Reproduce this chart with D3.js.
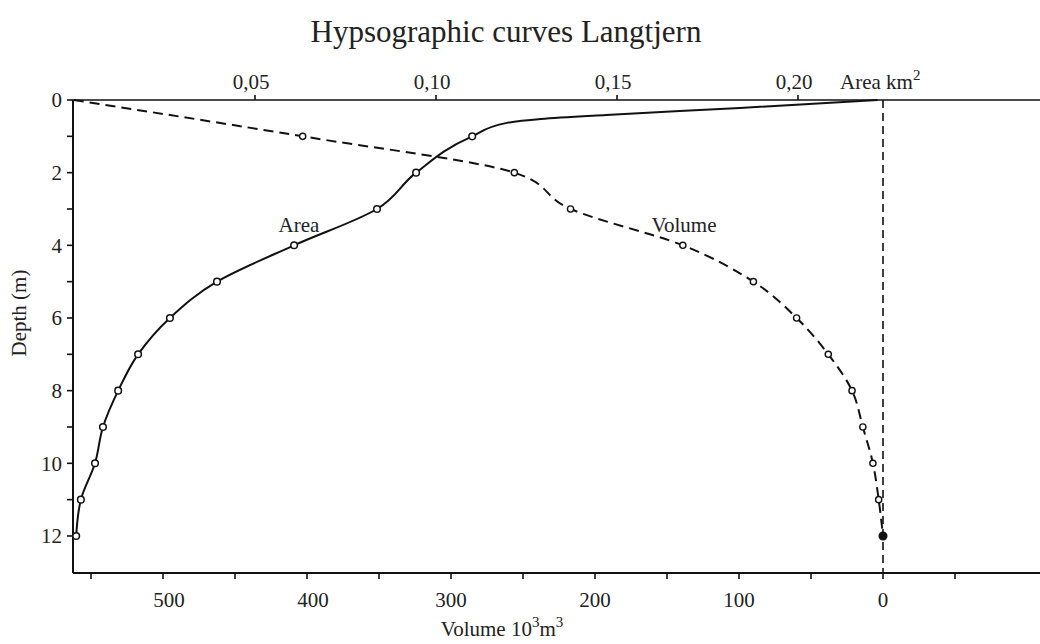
<!DOCTYPE html>
<html>
<head>
<meta charset="utf-8">
<script src="https://cdn.jsdelivr.net/npm/d3@7"></script>
<style>
  html, body { margin: 0; padding: 0; background: #fff; }
  svg { display: block; }
  text { font-family: "Liberation Serif", "Times New Roman", serif; fill: #222; }
</style>
</head>
<body>
<svg id="chart" width="1040" height="644"></svg>
<script>
// ---- data ----
const title = "Hypsographic curves Langtjern";
// Area curve (km²) vs depth (m); markers on whole-metre depths
const areaDepths = [0, 0.22, 0.41, 0.52, 0.63, 1, 2, 3, 4, 5, 6, 7, 8, 9, 10, 11, 12];
const areaValues = [0.222, 0.184, 0.147, 0.129, 0.1196, 0.110, 0.0945, 0.0837, 0.0608, 0.0395, 0.0265, 0.0177, 0.0122, 0.0080, 0.0058, 0.0019, 0.0006];
// Cumulative volume (10³ m³) below each depth
const volumeDepths = [0, 1, 2, 3, 4, 5, 6, 7, 8, 9, 10, 11, 12];
const volumeValues = [562, 403, 256, 217, 139, 90, 60, 38, 21.5, 14, 7, 3, 0];
// axis ticks
const depthMajorTicks = [0, 2, 4, 6, 8, 10, 12];
const depthAllTicks = [0, 1, 2, 3, 4, 5, 6, 7, 8, 9, 10, 11, 12];
const areaTicks = [0.05, 0.10, 0.15, 0.20];
const areaTickLabels = ["0,05", "0,10", "0,15", "0,20"];
const volumeTicks = [550, 500, 450, 400, 350, 300, 250, 200, 150, 100, 50, 0, -50];
const volumeLabelTicks = [500, 400, 300, 200, 100, 0];

(function () {
// ---- layout ----
const svg = d3.select("#chart");
const pL = 73, pT = 100, pB = 573, pR = 1040;

const y = d3.scaleLinear().domain([0, 13]).range([pT, pB - 0.7]);
const xArea = d3.scaleLinear().domain([0, 0.2]).range([74, 798]);
const xVol = d3.scaleLinear().domain([0, 500]).range([883, 163]);

// title
svg.append("text").attr("x", 506).attr("y", 42).attr("text-anchor", "middle")
  .style("font-size", "31px").text(title);

// frame lines
svg.append("line").attr("x1", pL).attr("x2", pR).attr("y1", pT).attr("y2", pT)
  .attr("stroke", "#111").attr("stroke-width", 1.6);
svg.append("line").attr("x1", pL).attr("x2", pR).attr("y1", pB).attr("y2", pB)
  .attr("stroke", "#111").attr("stroke-width", 2);
svg.append("line").attr("x1", pL).attr("x2", pL).attr("y1", pT).attr("y2", pB)
  .attr("stroke", "#111").attr("stroke-width", 2);

// left depth axis
const gL = svg.append("g");
gL.selectAll("line.tk").data(depthAllTicks).join("line")
  .attr("x1", pL - 6).attr("x2", pL).attr("y1", d => y(d)).attr("y2", d => y(d))
  .attr("stroke", "#111").attr("stroke-width", 1.6);
gL.selectAll("text").data(depthMajorTicks).join("text")
  .attr("x", 62).attr("y", d => y(d)).attr("dy", "0.35em").attr("text-anchor", "end")
  .style("font-size", "21px").text(d => d);
svg.append("text").attr("transform", "translate(26,313) rotate(-90)")
  .attr("text-anchor", "middle").style("font-size", "21px").text("Depth (m)");

// top area axis
const gT = svg.append("g");
gT.selectAll("line").data(areaTicks).join("line")
  .attr("x1", d => xArea(d)).attr("x2", d => xArea(d)).attr("y1", pT - 5).attr("y2", pT)
  .attr("stroke", "#111").attr("stroke-width", 1.6);
gT.selectAll("text").data(areaTicks).join("text")
  .attr("x", d => xArea(d) - 4).attr("y", 89).attr("text-anchor", "middle")
  .style("font-size", "21px").text((d, i) => areaTickLabels[i]);
const at = svg.append("text").attr("x", 840).attr("y", 89).style("font-size", "21px");
at.append("tspan").text("Area km");
at.append("tspan").attr("dy", -9).style("font-size", "15px").text("2");

// bottom volume axis
const gB = svg.append("g");
gB.selectAll("line").data(volumeTicks).join("line")
  .attr("x1", d => xVol(d)).attr("x2", d => xVol(d)).attr("y1", pB).attr("y2", pB + 6)
  .attr("stroke", "#111").attr("stroke-width", 1.6);
gB.selectAll("text").data(volumeLabelTicks).join("text")
  .attr("x", d => xVol(d) + (d >= 400 ? 6 : 0)).attr("y", 607).attr("text-anchor", "middle")
  .style("font-size", "21px").text(d => d);
const vt = svg.append("text").attr("x", 502).attr("y", 636).attr("text-anchor", "middle")
  .style("font-size", "21px");
vt.append("tspan").text("Volume 10");
vt.append("tspan").attr("dy", -9).style("font-size", "15px").text("3");
vt.append("tspan").attr("dy", 9).text("m");
vt.append("tspan").attr("dy", -9).style("font-size", "15px").text("3");

// vertical dashed zero-volume line
svg.append("line").attr("x1", xVol(0)).attr("x2", xVol(0)).attr("y1", pT).attr("y2", pB)
  .attr("stroke", "#111").attr("stroke-width", 1.6).attr("stroke-dasharray", "8,5");

// area curve
const areaPts = areaDepths.map((d, i) => ({ depth: d, v: areaValues[i] }));
const lineArea = d3.line().x(d => xArea(d.v)).y(d => y(d.depth)).curve(d3.curveMonotoneY);
svg.append("path").datum(areaPts).attr("d", lineArea)
  .attr("fill", "none").attr("stroke", "#111").attr("stroke-width", 2);

// volume curve
const volPts = volumeDepths.map((d, i) => ({ depth: d, v: volumeValues[i] }));
const lineVol = d3.line().x(d => xVol(d.v)).y(d => y(d.depth)).curve(d3.curveMonotoneY);
svg.append("path").datum(volPts).attr("d", lineVol)
  .attr("fill", "none").attr("stroke", "#111").attr("stroke-width", 2)
  .attr("stroke-dasharray", "10,6");

// markers
svg.append("g").selectAll("circle")
  .data(areaPts.filter(p => Number.isInteger(p.depth) && p.depth > 0)).join("circle")
  .attr("cx", d => xArea(d.v)).attr("cy", d => y(d.depth)).attr("r", 3.3)
  .attr("fill", "#fff").attr("stroke", "#111").attr("stroke-width", 1.5);
svg.append("g").selectAll("circle")
  .data(volPts.filter(p => p.depth > 0)).join("circle")
  .attr("cx", d => xVol(d.v)).attr("cy", d => y(d.depth)).attr("r", d => d.v === 0 ? 3.8 : 3.1)
  .attr("fill", d => d.v === 0 ? "#111" : "#fff").attr("stroke", "#111").attr("stroke-width", 1.4);

// curve labels
svg.append("text").attr("x", 299).attr("y", 232).attr("text-anchor", "middle")
  .style("font-size", "21px").text("Area");
svg.append("text").attr("x", 684).attr("y", 232).attr("text-anchor", "middle")
  .style("font-size", "21px").text("Volume");
})();
</script>
</body>
</html>
